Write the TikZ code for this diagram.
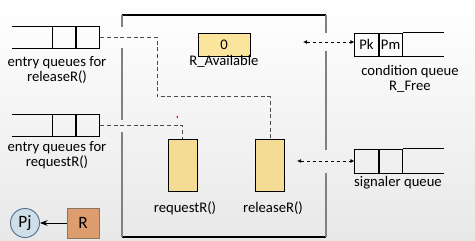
\documentclass[tikz,border=0pt]{standalone}
\usepackage{fontspec}
\setmainfont{Carlito}
\usetikzlibrary{positioning,arrows.meta}
\definecolor{varfill}{HTML}{FBE49C}
\definecolor{procfill}{HTML}{F5DC94}
\definecolor{pjfill}{HTML}{D0DEEA}
\definecolor{pjdraw}{HTML}{51708F}
\definecolor{resfill}{HTML}{DE9D6F}
\definecolor{resdraw}{HTML}{8C7463}
\begin{document}
\begin{tikzpicture}[x=0.75pt,y=-0.75pt,>=Stealth,font=\fontsize{11}{11.3}\selectfont,
  cell/.style={draw,line width=0.6pt,minimum width=17.5pt,minimum height=16.5pt,inner sep=0pt},
  proc/.style={draw,line width=0.6pt,fill=procfill,minimum width=21.75pt,minimum height=39pt},
  txt/.style={align=center,inner sep=0pt},
  link/.style={draw=black!70,line width=0.75pt,dash pattern=on 3pt off 2pt},
  sig/.style={line width=0.6pt,dash pattern=on 2.5pt off 2pt,{Latex[length=3pt,width=3pt]}-{Latex[length=3pt,width=3pt]}},
  side/.style={draw=black!50,line width=1pt},
  edge/.style={draw=black,line width=0.8pt}]
  % background
  \shade[top color=white,bottom color=black!9] (0,0) rectangle (475,241);
  \useasboundingbox (0,0) rectangle (475,241);
  % monitor walls
  \draw[edge] (122,15) -- (326,15);
  \draw[edge] (122,237) -- (326,237);
  \draw[side] (122,15) -- (122,27) (122,48) -- (122,120) (122,132) -- (122,237);
  \draw[side] (326,15) -- (326,33) (326,51) -- (326,150) (326,173) -- (326,237);
  % entry queues
  \node[cell] (q1a) at (64,37.5) {};
  \node[cell,right=0pt of q1a] (q1b) {};
  \draw[line width=0.6pt] (q1a.north west) -- ++(-40,0) (q1a.south west) -- ++(-40,0);
  \node[txt] (l1) at (57,70) {entry queues for\\releaseR()};
  \node[cell] (q2a) at (64,125.5) {};
  \node[cell,right=0pt of q2a] (q2b) {};
  \draw[line width=0.6pt] (q2a.north west) -- ++(-40,0) (q2a.south west) -- ++(-40,0);
  \node[txt] (l2) at (57,155) {entry queues for\\requestR()};
  % shared variable
  \node[draw,line width=0.6pt,fill=varfill,minimum width=39pt,minimum height=17.25pt] (avail) at (224,44.5) {0};
  \node[txt,anchor=base] (lavail) at (224,66) {R\_Available};
  % procedures
  \node[proc] (req) at (182.5,165) {};
  \node[proc] (rel) at (270,165) {};
  \node[txt,anchor=base] (lreq) at (185,213) {requestR()};
  \node[txt,anchor=base] (lrel) at (273,213) {releaseR()};
  % condition queue
  \node[cell,minimum height=17.25pt] (pk) at (366.5,44.5) {Pk};
  \node[cell,minimum height=17.25pt,right=0pt of pk] (pm) {Pm};
  \draw[line width=0.6pt] (pm.north east) -- ++(41,0) (pm.south east) -- ++(41,0);
  \node[txt] (lcond) at (410,79) {condition queue\\R\_Free};
  % signaler queue
  \node[cell,minimum height=18pt] (s1) at (366.5,161) {};
  \node[cell,minimum height=18pt,right=0pt of s1] (s2) {};
  \draw[line width=0.6pt] (s2.north east) -- ++(41,0) (s2.south east) -- ++(41,0);
  \node[txt,anchor=base] (lsig) at (398,187) {signaler queue};
  % process and resource
  \node[circle,draw=pjdraw,line width=0.7pt,fill=pjfill,minimum size=21.75pt,inner sep=0pt,font=\fontsize{13}{13}\selectfont] (pj) at (25,223) {Pj};
  \node[draw=resdraw,line width=0.7pt,fill=resfill,minimum width=24pt,minimum height=22.5pt,font=\fontsize{13}{13}\selectfont] (res) at (83,223) {R};
  \draw[->,line width=0.6pt] (res) -- (pj);
  % connectors
  \coordinate (bend) at (157,97);
  \draw[link] (q1b.east) -| (bend) -| (rel.north);
  \draw[link] (q2b.east) -| (req.north);
  \coordinate (mcond) at (303,42);
  \coordinate (msig) at (297,161);
  \draw[sig] (mcond) -- (mcond -| pk.west);
  \draw[sig] (msig) -- (s1.west);
  \draw[red,line width=0.8pt] (177,116) -- (177.6,118);
\end{tikzpicture}
\end{document}
